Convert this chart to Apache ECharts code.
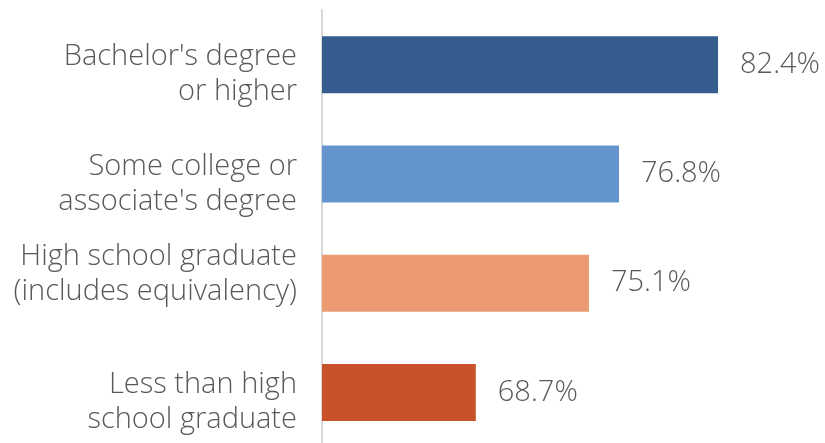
<!DOCTYPE html>
<html>
<head>
<meta charset="utf-8">
<script src="https://cdn.jsdelivr.net/npm/echarts@6/dist/echarts.min.js"></script>
<style>html,body{margin:0;padding:0;background:#fff;}#c{width:825px;height:443px;}</style>
</head>
<body>
<div id="c"></div>
<script>
const categories = ["Bachelor's degree\nor higher", "Some college or\nassociate's degree", "High school graduate\n(includes equivalency)", "Less than high\nschool graduate"];
const values = [82.4, 76.8, 75.1, 68.7];
const colors = ['#355d8f', '#6494cd', '#ec9a72', '#c8532a'];

const labelFont = {color: '#595959', fontFamily: 'Open Sans', fontWeight: 300, fontSize: 29, lineHeight: 35, align: 'right'};

const chart = echarts.init(document.getElementById('c'), null, {renderer: 'canvas'});
chart.setOption({
  animation: false,
  grid: {left: 322, top: 10, width: 442, height: 437, outerBoundsMode: 'none', containLabel: false},
  xAxis: {type: 'value', min: 60, max: 85, show: false},
  yAxis: {
    type: 'category', data: categories, inverse: true,
    axisLine: {show: true, lineStyle: {color: '#d9d9d9', width: 2}},
    axisTick: {show: false},
    axisLabel: {
      margin: 25, align: 'right',
      formatter: (v, i) => {
        const lines = v.split('\n').map(s => '{a|' + s + '}');
        return i === 2 ? lines.join('\n') + '\n{t| }' : '{s| }\n' + lines.join('\n');
      },
      rich: {
        a: labelFont,
        s: {fontSize: 1, lineHeight: 20},
        t: {fontSize: 1, lineHeight: 17}
      }
    }
  },
  series: [{
    type: 'bar',
    data: values.map((v, i) => ({value: v, itemStyle: {color: colors[i]}})),
    barWidth: 57,
    label: {show: true, position: 'right', distance: 22, formatter: p => p.value.toFixed(1) + '%', color: '#595959', fontFamily: 'Open Sans', fontWeight: 300, fontSize: 29}
  }]
});
</script>
</body>
</html>
